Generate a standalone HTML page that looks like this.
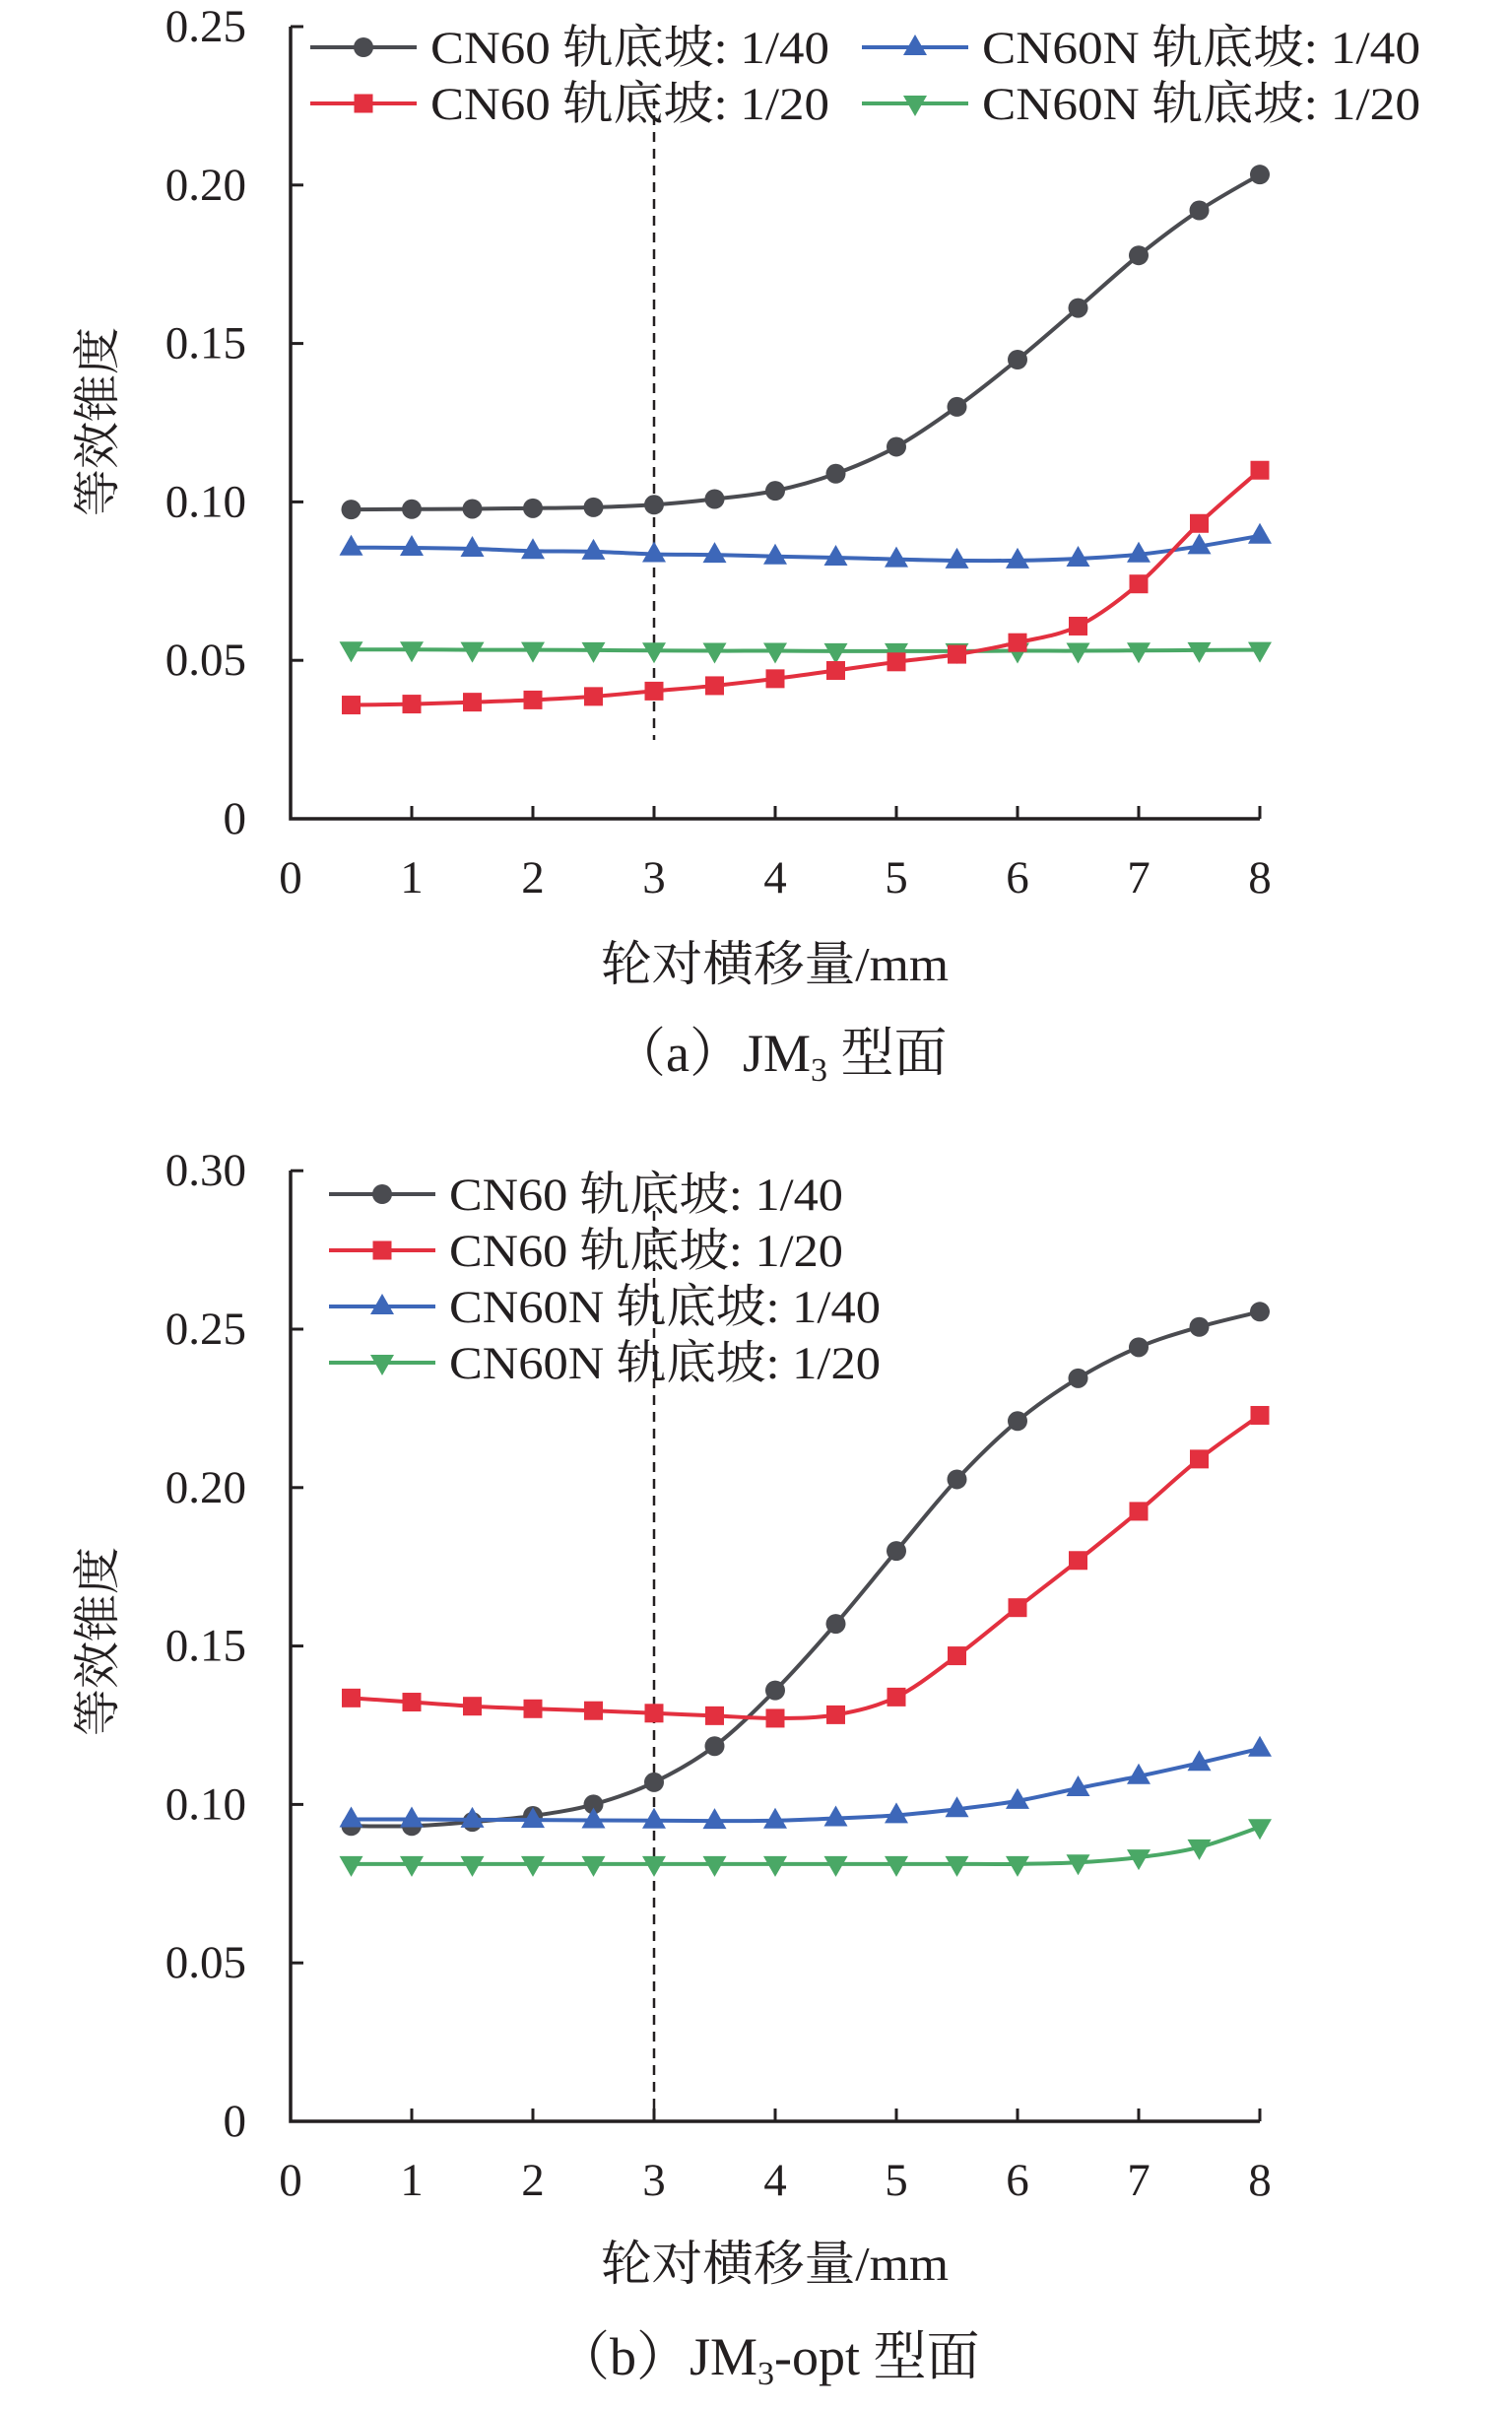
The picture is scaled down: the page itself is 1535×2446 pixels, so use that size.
<!DOCTYPE html>
<html><head><meta charset="utf-8"><style>
html,body{margin:0;padding:0;background:#fff}
svg{display:block}
text{font-family:"Liberation Serif","Noto Serif CJK SC","Noto Sans CJK SC",serif;fill:#231f20}
</style></head><body>
<svg id="s" width="1535" height="2446" viewBox="0 0 1535 2446" xmlns="http://www.w3.org/2000/svg">
<g id="g"></g>
</svg>
<script>
const NS="http://www.w3.org/2000/svg";
const G=document.getElementById('g');
function el(t,a,txt){const e=document.createElementNS(NS,t);for(const k in a)e.setAttribute(k,a[k]);if(txt!=null)e.textContent=txt;G.appendChild(e);return e;}
const C={k:'#4a4b50',r:'#e3303f',b:'#3d67b9',g:'#4aa866'};
function marker(type,x,y,c){
 if(type==='o')el('circle',{cx:x,cy:y,r:10,fill:c});
 else if(type==='s')el('rect',{x:x-9.5,y:y-9.5,width:19,height:19,fill:c});
 else if(type==='t')el('polygon',{points:`${x},${y-13} ${x-12},${y+8} ${x+12},${y+8}`,fill:c});
 else el('polygon',{points:`${x},${y+13} ${x-12},${y-8} ${x+12},${y-8}`,fill:c});
}
function smooth(p){let d=`M${p[0][0]},${p[0][1]}`;for(let i=0;i<p.length-1;i++){const p0=p[i-1]||p[i],p1=p[i],p2=p[i+1],p3=p[i+2]||p2;const t=6;
d+=` C${p1[0]+(p2[0]-p0[0])/t},${p1[1]+(p2[1]-p0[1])/t} ${p2[0]-(p3[0]-p1[0])/t},${p2[1]-(p3[1]-p1[1])/t} ${p2[0]},${p2[1]}`;}return d;}
function chart(o){
 const X=v=>295+v*123, Y=v=>o.y0-v*o.py;
 el('path',{d:`M${X(0)},${o.yTop} V${o.y0} H${X(8)}`,stroke:'#231f20','stroke-width':3.5,fill:'none'});
 for(let i=1;i<=8;i++)el('line',{x1:X(i),y1:o.y0,x2:X(i),y2:o.y0-13,stroke:'#231f20','stroke-width':3});
 o.yt.forEach(v=>{const y=Y(v);if(v>0)el('line',{x1:X(0),y1:y,x2:X(0)+13,y2:y,stroke:'#231f20','stroke-width':3});
   el('text',{x:250,y:y+15,'text-anchor':'end','font-size':47},v===0?'0':v.toFixed(2));});
 for(let i=0;i<=8;i++)el('text',{x:X(i),y:o.y0+75,'text-anchor':'middle','font-size':47},String(i));
 el('line',{x1:X(3),y1:o.dash[0],x2:X(3),y2:o.dash[1],stroke:'#231f20','stroke-width':2.5,'stroke-dasharray':'10,7'});
 o.series.forEach(s=>{const pts=s.d.map((v,i)=>[X(0.5+0.5*i),Y(v)]);
  el('path',{d:smooth(pts),stroke:s.c,'stroke-width':4,fill:'none'});
  pts.forEach(p=>marker(s.m,p[0],p[1],s.c));});
 o.leg.forEach(l=>{el('line',{x1:l.x,y1:l.y,x2:l.x+108,y2:l.y,stroke:l.c,'stroke-width':4});marker(l.m,l.x+54,l.y,l.c);
  el('text',{x:l.x+122,y:l.y+16,'font-size':47,textLength:l.w,lengthAdjust:'spacingAndGlyphs'},l.t);});
 el('text',{x:o.yl[0],y:o.yl[1],'font-size':48,'text-anchor':'middle',transform:`rotate(-90 ${o.yl[0]} ${o.yl[1]})`,dy:16},'等效锥度');
 el('text',{x:610,y:o.xt,'font-size':49,textLength:353,lengthAdjust:'spacingAndGlyphs'},'轮对横移量/mm');
}
chart({y0:831,yTop:27,py:3216,yt:[0,0.05,0.10,0.15,0.20,0.25],dash:[100,751],xt:995,yl:[99,428],
 series:[
 {c:C.k,m:'o',d:[.0976,.0977,.0978,.098,.0983,.0991,.1009,.1035,.1089,.1174,.130,.1449,.1612,.1778,.192,.2033]},
 {c:C.b,m:'t',d:[.0856,.0855,.0852,.0845,.0843,.0835,.0833,.0828,.0824,.0819,.0815,.0815,.0821,.0834,.086,.0893]},
 {c:C.g,m:'v',d:[.0534,.0534,.0533,.0533,.0532,.0531,.053,.053,.0529,.0529,.0529,.053,.053,.0531,.0532,.0533]},
 {c:C.r,m:'s',d:[.0359,.0362,.0368,.0375,.0386,.0403,.042,.0442,.0468,.0495,.0519,.0556,.0608,.0741,.0932,.110]}],
 leg:[{x:315,y:48,c:C.k,m:'o',t:'CN60 轨底坡: 1/40',w:405},{x:315,y:105,c:C.r,m:'s',t:'CN60 轨底坡: 1/20',w:405},
 {x:875,y:48,c:C.b,m:'t',t:'CN60N 轨底坡: 1/40',w:445},{x:875,y:105,c:C.g,m:'v',t:'CN60N 轨底坡: 1/20',w:445}]});
chart({y0:2153,yTop:1188,py:3216,yt:[0,0.05,0.10,0.15,0.20,0.25,0.30],dash:[1229,2153],xt:2314,yl:[99,1666],
 series:[
 {c:C.k,m:'o',d:[.0932,.0932,.0945,.0964,.100,.107,.1184,.136,.157,.180,.2026,.221,.2345,.2443,.2507,.2555]},
 {c:C.r,m:'s',d:[.1336,.1323,.131,.1302,.1296,.1288,.128,.1272,.1283,.1339,.1469,.1621,.177,.1925,.209,.2228]},
 {c:C.b,m:'t',d:[.0953,.0953,.0952,.0951,.095,.0949,.0948,.0949,.0956,.0966,.0985,.1011,.1051,.1089,.1131,.1176]},
 {c:C.g,m:'v',d:[.0812,.0812,.0812,.0812,.0812,.0812,.0812,.0812,.0812,.0812,.0812,.0812,.0817,.0833,.0865,.0929]}],
 leg:[{x:334,y:1212,c:C.k,m:'o',t:'CN60 轨底坡: 1/40',w:400},{x:334,y:1269,c:C.r,m:'s',t:'CN60 轨底坡: 1/20',w:400},
 {x:334,y:1326,c:C.b,m:'t',t:'CN60N 轨底坡: 1/40',w:438},{x:334,y:1383,c:C.g,m:'v',t:'CN60N 轨底坡: 1/20',w:438}]});
let t=el('text',{x:622,y:1087,'font-size':54});
t.innerHTML='（a）JM<tspan font-size="34" dy="10">3</tspan><tspan dy="-10"> 型面</tspan>';
t=el('text',{x:565,y:2410,'font-size':54});
t.innerHTML='（b）JM<tspan font-size="34" dy="10">3</tspan><tspan dy="-10">-opt 型面</tspan>';
</script>
</body></html>
